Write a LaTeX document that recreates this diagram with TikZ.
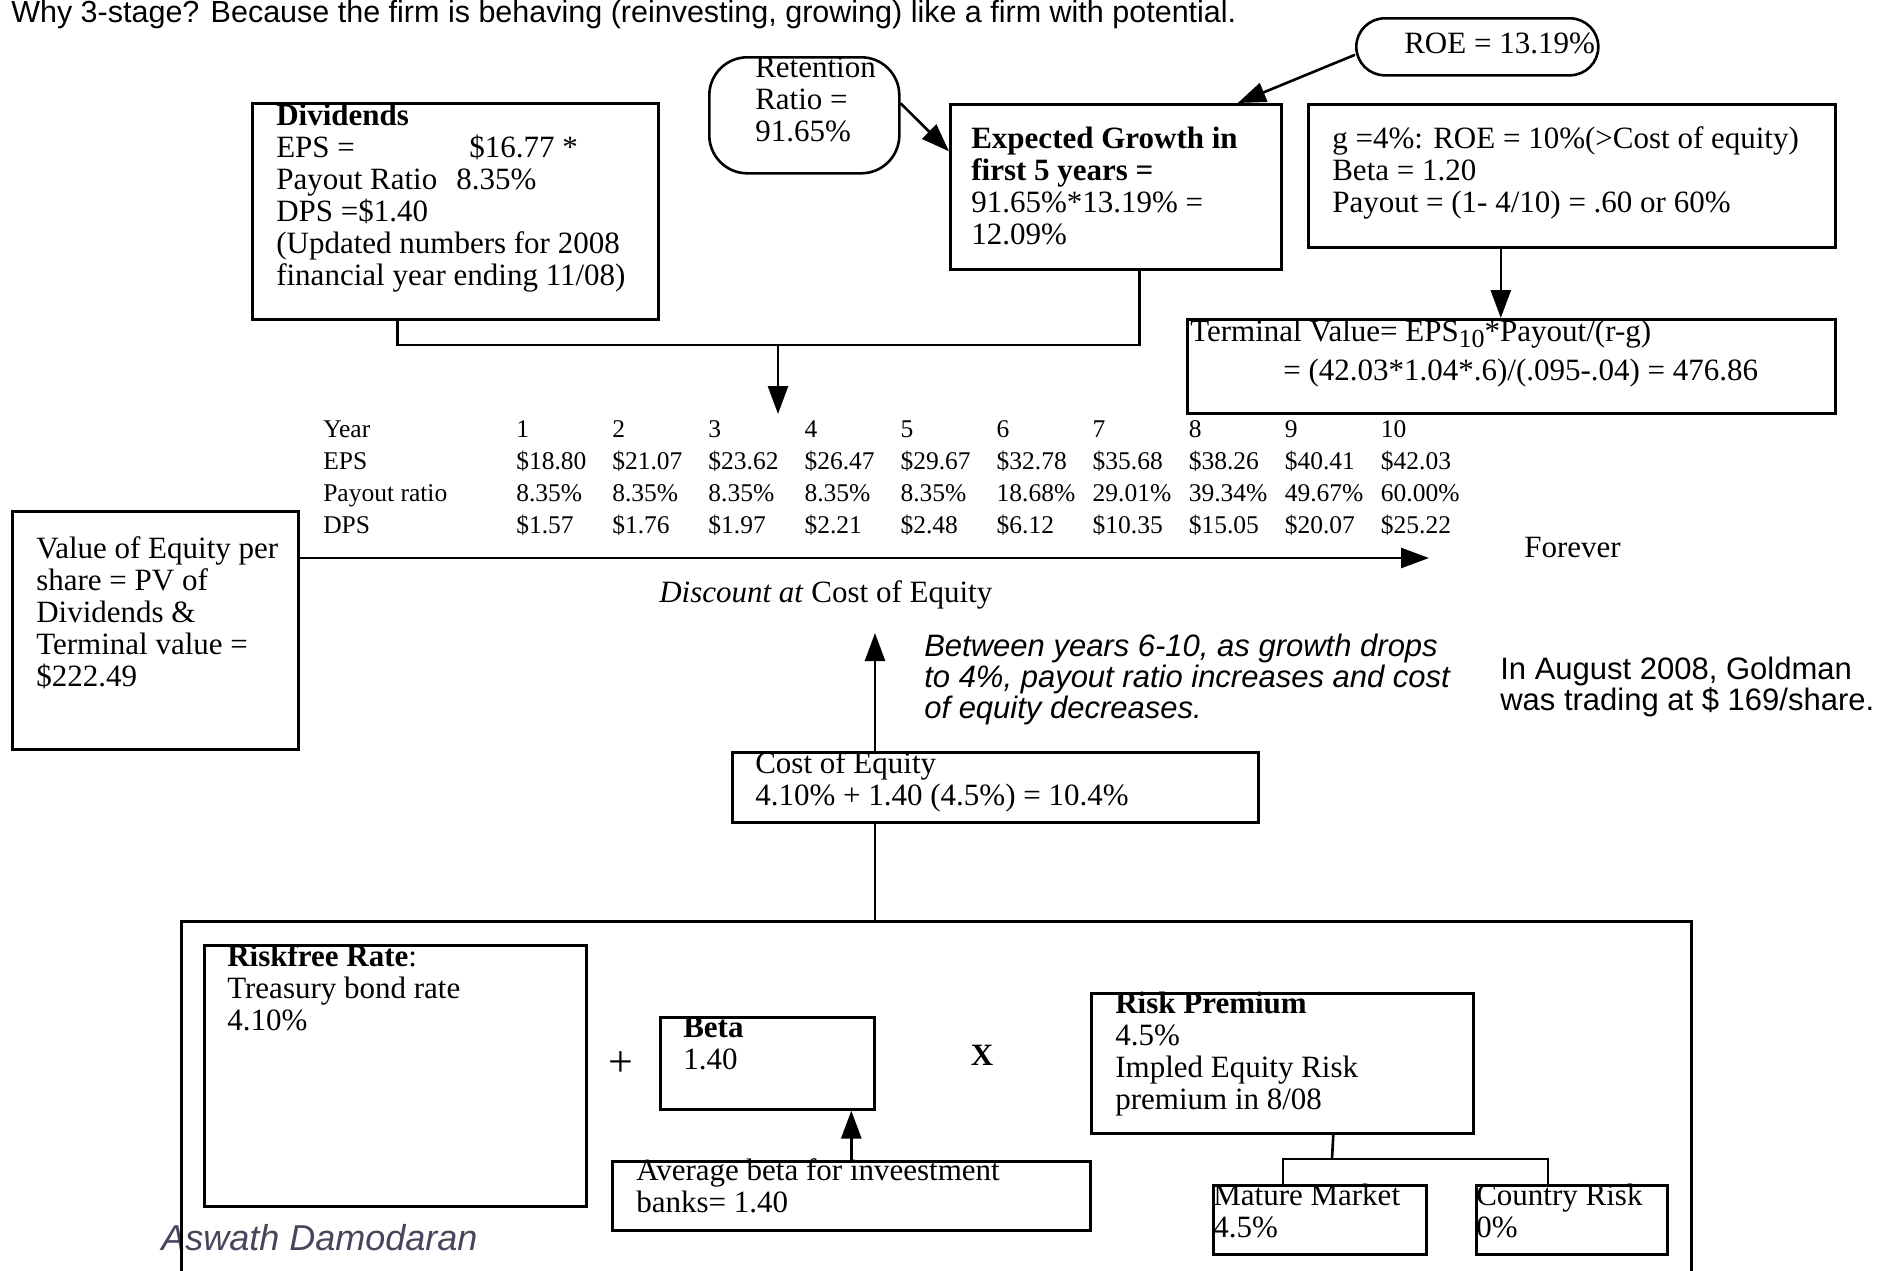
\documentclass[tikz,border=0pt]{standalone}
\usepackage{fontspec}
\setmainfont{Liberation Serif}
\setsansfont{Liberation Sans}
\usetikzlibrary{arrows.meta}

\newcommand\boxfont{\fontsize{31}{32}\selectfont}
\newcommand\tabfont{\fontsize{25.5}{32}\selectfont}
\newcommand\notefont{\sffamily\fontsize{31}{30}\selectfont}
\newcommand\txtlines[1]{\begin{tabular}[t]{@{}l@{}}#1\end{tabular}}
\definecolor{authorgray}{RGB}{69,69,92}

\begin{document}
\begin{tikzpicture}[x=1pt, y=-1pt, >={Triangle[length=28pt, width=20pt]}, line width=2.6pt,
  frame/.style={draw, anchor=north west, inner sep=0pt},
  txt/.style={anchor=base west, inner sep=0pt, font=\boxfont},
  note/.style={anchor=base west, inner sep=0pt, font=\notefont}]
\useasboundingbox (0,0) rectangle (1883,1270);

\node[note, font=\sffamily\fontsize{30.5}{32}\selectfont] (title) at (10,22) {Why 3-stage? Because the firm is behaving (reinvesting, growing) like a firm with potential.};

% growth inputs
\node[frame, rounded corners=38pt, minimum width=190pt, minimum height=116pt] (retbox) at (708,56) {};
\node[txt] (rettxt) at (754,77) {\txtlines{Retention\\Ratio =\\91.65\%}};
\node[frame, rounded corners=28.5pt, minimum width=242pt, minimum height=57pt] (roebox) at (1355,17) {};
\node[txt] (roetxt) at (1403,53) {ROE = 13.19\%};
\node[frame, minimum width=331pt, minimum height=165pt] (expbox) at (949,103) {};
\node[txt] (exptxt) at (970,148) {\txtlines{\textbf{Expected Growth in}\\\textbf{first 5 years =}\\91.65\%*13.19\% =\\12.09\%}};
\node[frame, minimum width=527pt, minimum height=143pt] (gbox) at (1307,103) {};
\node[txt] (gtxt) at (1331,148) {\txtlines{g =4\%: ROE = 10\%(>Cost of equity)\\Beta = 1.20\\Payout = (1- 4/10) = .60 or 60\%}};
\node[frame, minimum width=648pt, minimum height=94pt] (tvbox) at (1186,318) {};
\node[txt] (tvtxt) at (1189,341) {\txtlines{Terminal Value= EPS\raisebox{-6pt}{\fontsize{26}{26}\selectfont 10}*Payout/(r-g)\\[7pt]\hspace*{93pt}= (42.03*1.04*.6)/(.095-.04) = 476.86}};
\node[frame, minimum width=406pt, minimum height=216pt] (divbox) at (251,102) {};
\node[txt] (divtxt) at (275,125) {\txtlines{\textbf{Dividends}\\\makebox[193pt][l]{EPS =}\$16.77 *\\\makebox[180pt][l]{Payout Ratio}8.35\%\\DPS =\$1.40\\(Updated numbers for 2008\\financial year ending 11/08)}};

% cash flows
\node[anchor=base west, inner sep=0pt, font=\tabfont] (yeartab) at (322,437) {\begin{tabular}[t]{@{}p{193pt}@{}*{10}{p{96.07pt}@{}}}
Year & 1 & 2 & 3 & 4 & 5 & 6 & 7 & 8 & 9 & 10\\
EPS & \$18.80 & \$21.07 & \$23.62 & \$26.47 & \$29.67 & \$32.78 & \$35.68 & \$38.26 & \$40.41 & \$42.03\\
Payout ratio & 8.35\% & 8.35\% & 8.35\% & 8.35\% & 8.35\% & 18.68\% & 29.01\% & 39.34\% & 49.67\% & 60.00\%\\
DPS & \$1.57 & \$1.76 & \$1.97 & \$2.21 & \$2.48 & \$6.12 & \$10.35 & \$15.05 & \$20.07 & \$25.22
\end{tabular}};
\node[frame, minimum width=286pt, minimum height=238pt] (valbox) at (11,510) {};
\node[txt] (valtxt) at (35,558) {\txtlines{Value of Equity per\\share = PV of\\Dividends \&\\Terminal value =\\\$222.49}};
\node[txt] (forever) at (1523,557) {Forever};
\node[txt] (disctxt) at (658,602) {\textit{Discount at} Cost of Equity};
\node[note, font=\notefont\itshape] (stagenote) at (923,656) {\txtlines{Between years 6-10, as growth drops\\to 4\%, payout ratio increases and cost\\of equity decreases.}};
\node[note] (pricenote) at (1499,679) {\txtlines{In August 2008, Goldman\\was trading at \$ 169/share.}};

% cost of equity
\node[frame, minimum width=526pt, minimum height=70pt] (coebox) at (731,751) {};
\node[txt] (coetxt) at (754,773) {\txtlines{Cost of Equity\\4.10\% + 1.40 (4.5\%) = 10.4\%}};
\node[note, font=\sffamily\itshape\fontsize{36}{36}\selectfont, text=authorgray] (author) at (160,1250) {Aswath Damodaran};
\node[frame, minimum width=1510pt, minimum height=420pt] (capmframe) at (180,920) {};
\node[frame, minimum width=382pt, minimum height=261pt] (rfbox) at (203,944) {};
\node[txt] (rftxt) at (226,966) {\txtlines{\textbf{Riskfree Rate}:\\Treasury bond rate\\4.10\%}};
\node[txt, anchor=center, font=\fontsize{44}{44}\selectfont] (plussign) at (621,1064) {+};
\node[frame, minimum width=214pt, minimum height=92pt] (betabox) at (659,1016) {};
\node[txt] (betatxt) at (682,1037) {\txtlines{\textbf{Beta}\\1.40}};
\node[txt, anchor=center] (timessign) at (982,1055) {\textbf{X}};
\node[frame, minimum width=382pt, minimum height=140pt] (rpbox) at (1090,992) {};
\node[txt] (rptxt) at (1114,1013) {\txtlines{\textbf{Risk Premium}\\4.5\%\\Impled Equity Risk\\premium in 8/08}};
\node[frame, minimum width=478pt, minimum height=69pt] (avgbox) at (611,1160) {};
\node[txt] (avgtxt) at (635,1180) {\txtlines{Average beta for inveestment\\banks= 1.40}};
\node[frame, minimum width=213pt, minimum height=69pt] (mmbox) at (1212,1184) {};
\node[txt] (mmtxt) at (1212,1205) {\txtlines{Mature Market\\4.5\%}};
\node[frame, minimum width=191pt, minimum height=69pt] (crbox) at (1475,1184) {};
\node[txt] (crtxt) at (1475,1205) {\txtlines{Country Risk\\0\%}};

\coordinate (join) at (778,345);
\coordinate (tabtip) at (778,414);
\coordinate (fwdtip) at (1429,558);
\coordinate (disctip) at (875,633);
\coordinate (rpbar) at (1332,1159);

\draw[->] ([yshift=12pt]retbox.east) -- ([yshift=35.5pt]expbox.west);
\draw[->] ([yshift=-8pt]roebox.west) -- ([xshift=122pt]expbox.north);
\draw[->] ([xshift=-71pt]gbox.south) -- ([xshift=-71pt]gbox.south |- tvbox.north);
\draw ([xshift=-58pt]divbox.south) |- (join) -| ([xshift=23.5pt]expbox.south);
\draw[->] (join) -- (tabtip);
\draw[->] (valbox.east |- fwdtip) -- (fwdtip);
\draw[->] (coebox.north -| disctip) -- (disctip);
\draw (coebox.south -| disctip) -- (capmframe.north -| disctip);
\draw[->] (avgbox.north) -- (avgbox.north |- betabox.south);
\draw ([xshift=51pt]rpbox.south) -- (rpbar);
\draw ([xshift=71pt]mmbox.north west) |- (rpbar);
\draw ([xshift=73pt]crbox.north west) |- (rpbar);
\end{tikzpicture}
\end{document}
